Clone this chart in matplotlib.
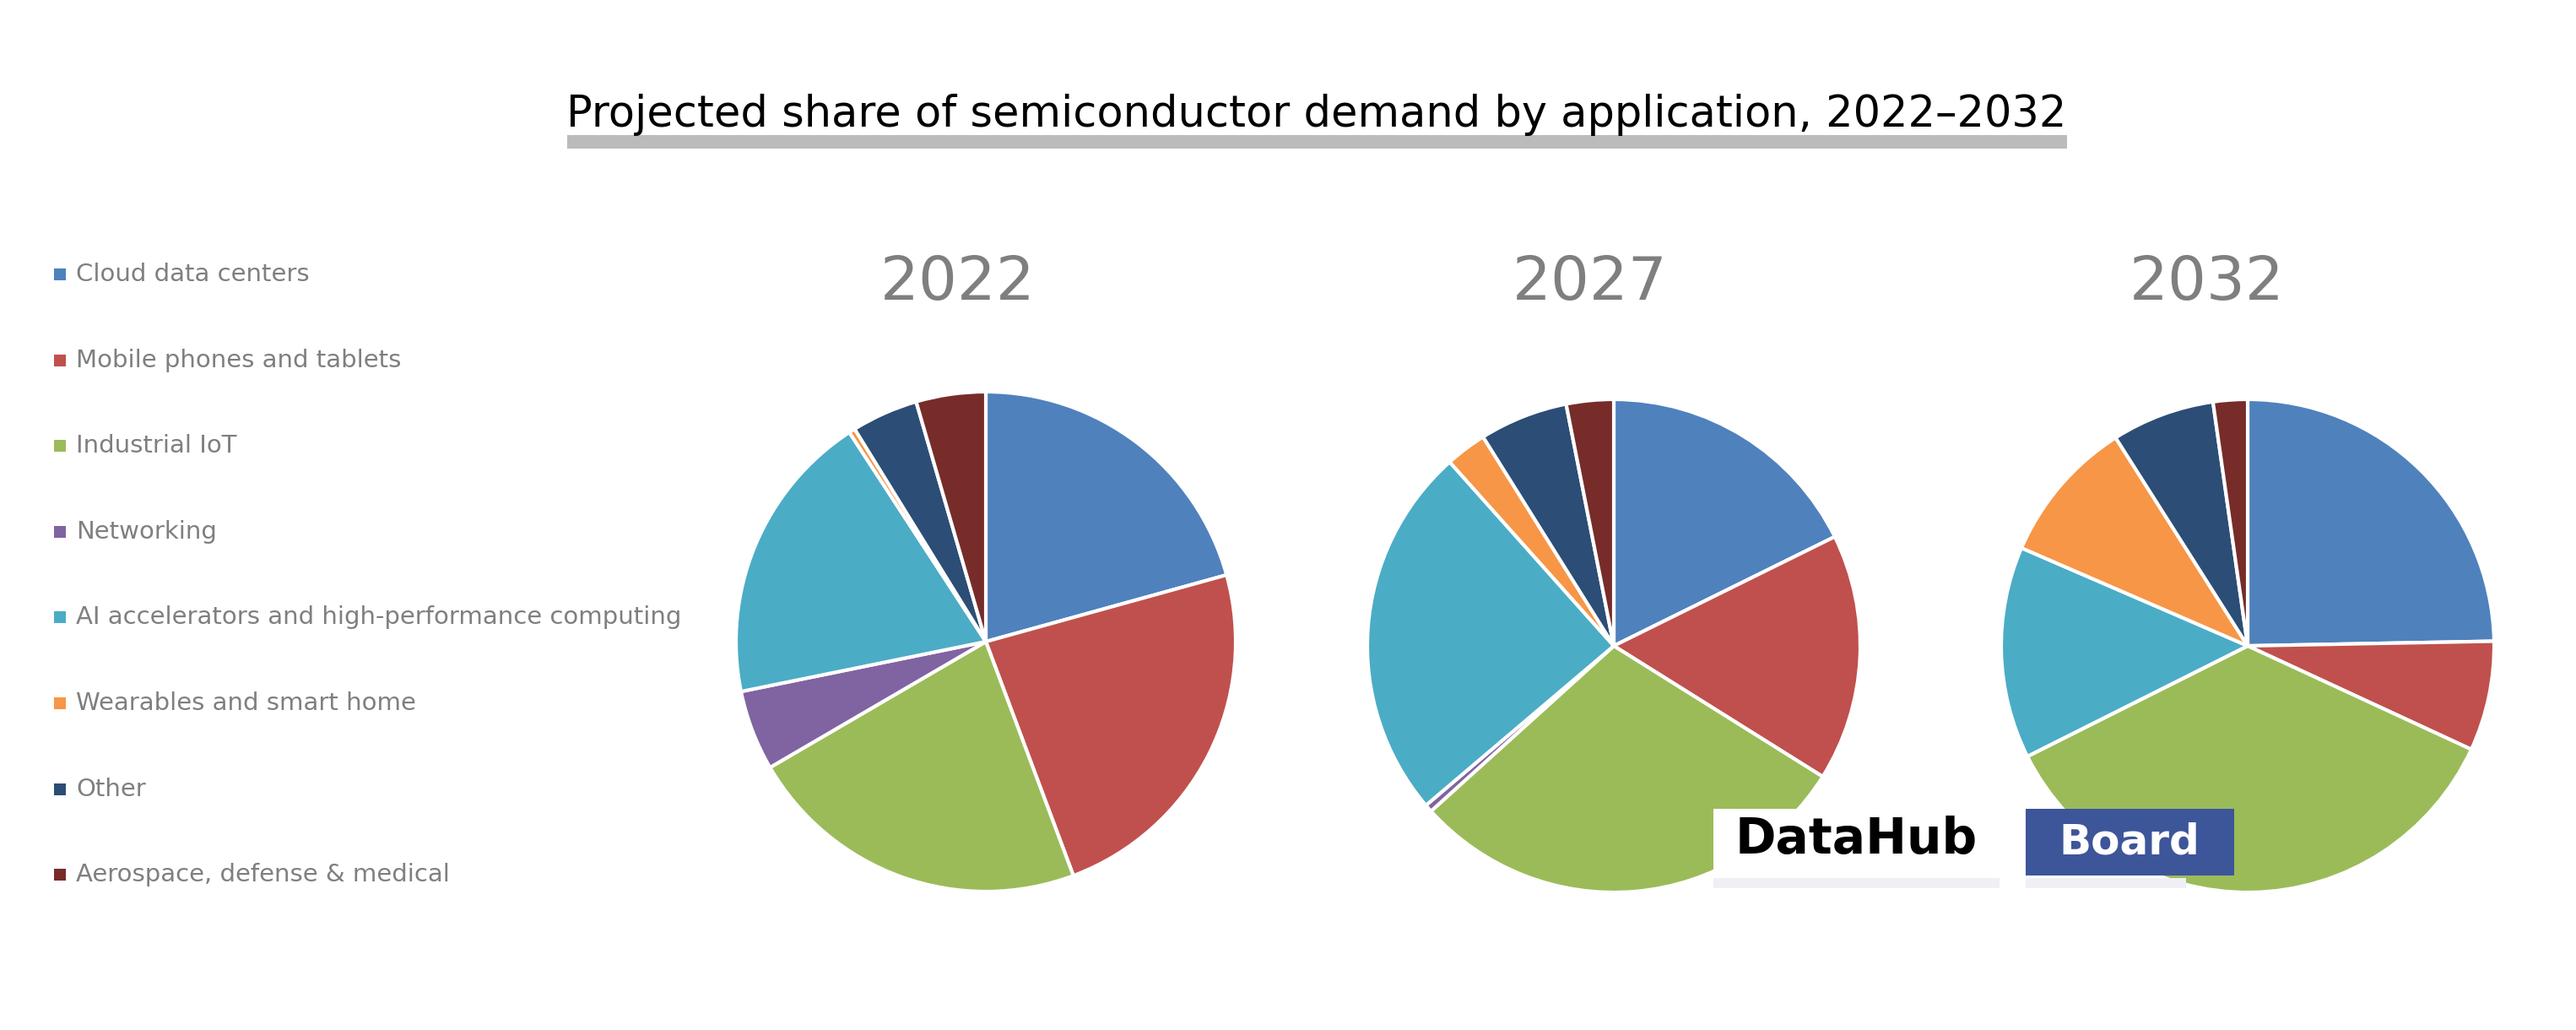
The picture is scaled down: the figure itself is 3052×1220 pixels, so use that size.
import matplotlib
matplotlib.use("Agg")
import matplotlib.pyplot as plt
from matplotlib.patches import Rectangle

# ---------------- data ----------------
categories = [
    "Cloud data centers",
    "Mobile phones and tablets",
    "Industrial IoT",
    "Networking",
    "AI accelerators and high-performance computing",
    "Wearables and smart home",
    "Other",
    "Aerospace, defense & medical",
]
years = ["2022", "2027", "2032"]
shares_2022 = [20.7, 23.6, 22.3, 5.2, 19.0, 0.4, 4.3, 4.5]
shares_2027 = [17.7, 16.2, 29.4, 0.5, 24.6, 2.7, 5.8, 3.1]
shares_2032 = [24.7, 7.2, 35.7, 0.0, 13.9, 9.5, 6.75, 2.25]
colors = ["#4F81BD", "#C0504D", "#9BBB59", "#8064A2",
          "#4BACC6", "#F79646", "#2C4D75", "#772C2A"]
title_text = "Projected share of semiconductor demand by application, 2022–2032"

W, H = 3052, 1220
fig = plt.figure(figsize=(W / 100, H / 100), dpi=100)
fig.patch.set_facecolor("white")

def fx(px):
    return px / W

def fy(py):
    return 1 - py / H

def rect(x0, y0, x1, y1, color, z=1):
    fig.patches.append(Rectangle((fx(x0), fy(y1)), (x1 - x0) / W, (y1 - y0) / H,
                                 transform=fig.transFigure, facecolor=color,
                                 edgecolor="none", zorder=z))

# ---------------- title ----------------
t = fig.text(fx(1560), fy(136), title_text, ha="center", va="center",
             fontsize=34, color="black", family="DejaVu Sans")
fig.canvas.draw()
bb = t.get_window_extent()
t.set_fontsize(34 * (2449 - 672) / bb.width)
rect(672, 160, 2449, 176, "#BBBBBB", z=0)

# ---------------- pies ----------------
all_shares = [shares_2022, shares_2027, shares_2032]
centers_x = [1168, 1912, 2663]
centers_y = [760, 765, 765]
radii = [296, 292, 292]
year_x = [1135, 1884, 2615]
for i, (vals, yr) in enumerate(zip(all_shares, years)):
    r = radii[i]
    cx, cy = centers_x[i], centers_y[i]
    ax = fig.add_axes([fx(cx - r), fy(cy + r), 2 * r / W, 2 * r / H])
    ax.pie(vals, colors=colors, startangle=90, counterclock=False,
           wedgeprops=dict(edgecolor="white", linewidth=3))
    ax.set_aspect("equal")
    ax.set_xlim(-1.0, 1.0)
    ax.set_ylim(-1.0, 1.0)
    ax.axis("off")
    fig.text(fx(year_x[i]), fy(336), yr, ha="center", va="center",
             fontsize=52, color="#7F7F7F")

# ---------------- legend ----------------
for i, (cat, col) in enumerate(zip(categories, colors)):
    yc = 325 + 101.6 * i
    rect(64, yc - 7, 78, yc + 7, col)
    fig.text(fx(90), fy(yc), cat, ha="left", va="center",
             fontsize=21, color="#7F7F7F")

# ---------------- watermark ----------------
rect(2030, 958, 2369, 1030, "white", z=5)
rect(2030, 1040, 2369, 1052, "#EFEFF5", z=5)
rect(2400, 958, 2647, 1037, "#3D5599", z=5)
rect(2400, 1040, 2590, 1052, "#EFEFF5", z=5)
fig.text(fx(2199), fy(994), "DataHub", ha="center", va="center", fontsize=42,
         fontweight="bold", color="black", zorder=10)
fig.text(fx(2523), fy(997), "Board", ha="center", va="center", fontsize=36,
         fontweight="bold", color="white", zorder=10)

fig.savefig("out.png", dpi=100, facecolor="white")
